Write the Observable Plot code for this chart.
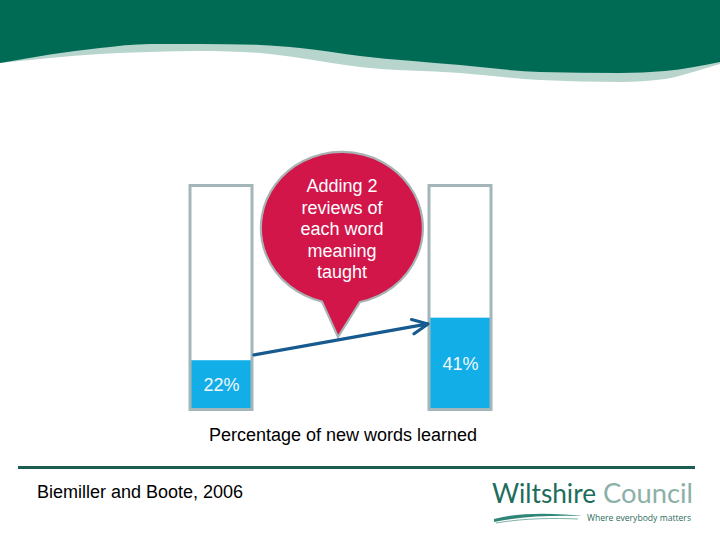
<!DOCTYPE html>
<html>
<head>
<meta charset="utf-8">
<script src="https://cdn.jsdelivr.net/npm/d3@7"></script>
<script src="https://cdn.jsdelivr.net/npm/@observablehq/plot@0.6"></script>
<style>
  html, body { margin: 0; padding: 0; background: #ffffff; }
  #slide { position: relative; width: 720px; height: 540px; overflow: hidden; background: #ffffff; font-family: "Liberation Sans", Arial, sans-serif; }
  #deco, #chart { position: absolute; left: 0; top: 0; }
  #chart svg { background: transparent; }
</style>
</head>
<body>
<div id="slide">
  <svg id="deco" width="720" height="540" xmlns="http://www.w3.org/2000/svg"></svg>
  <div id="chart"></div>
</div>
<script>
// ---- data ----
const categories = ["Word meanings taught", "Taught + 2 reviews"];
const values = [22, 41];
const valueLabels = ["22%", "41%"];
const scaleMax = 100;
const bubbleLines = ["Adding 2", "reviews of", "each word", "meaning", "taught"];
const captionText = "Percentage of new words learned";
const sourceText = "Biemiller and Boote, 2006";
const logoMain = "Wiltshire";
const logoSecond = "Council";
const logoTagline = "Where everybody matters";

const data = categories.map((c, i) => ({cat: c, value: values[i], label: valueLabels[i]}));
const arrowData = [{x1: categories[0], y1: values[0], x2: categories[1], y2: values[1]}];

// ---- decoration (slide template) ----
const deco = d3.select("#deco");
const darkEdge = [[0,63],[100,48],[150,44],[200,44],[260,45],[300,48],[360,56],[460,65],[540,72],[620,73],[665,71],[720,62]];
const lightEdge = [[0,63],[50,58],[100,54],[150,52],[200,51],[260,53],[300,58],[360,67],[460,73],[540,80],[620,82],[665,79],[693,72],[720,64]];
const edgeLine = d3.line().curve(d3.curveMonotoneX);
deco.append("path").attr("d", "M0,0 L720,0 L" + edgeLine(lightEdge.slice().reverse()).slice(1) + " Z").attr("fill", "#b7d5cd");
deco.append("path").attr("d", "M0,0 L720,0 L" + edgeLine(darkEdge.slice().reverse()).slice(1) + " Z").attr("fill", "#006b55");

// speech bubble
const cx = 342, cy = 228, rx = 81, ry = 76;
deco.append("path")
  .attr("d", `M360,302 A${rx},${ry} 0 1 0 322,301.6 L338,337 Z`)
  .attr("fill", "#d2164a").attr("stroke", "#a9b3b3").attr("stroke-width", 2.2);
const bt = deco.append("text").attr("text-anchor", "middle").attr("fill", "#ffffff")
  .attr("font-family", "Liberation Sans, Arial, sans-serif").attr("font-size", 18);
bubbleLines.forEach((t, i) => bt.append("tspan").attr("x", cx).attr("y", 192 + i * 21.5).text(t));

// caption
deco.append("text").attr("x", 343).attr("y", 441).attr("text-anchor", "middle")
  .attr("font-family", "Liberation Sans, Arial, sans-serif").attr("font-size", 18).attr("fill", "#000")
  .text(captionText);

// rule and source
deco.append("line").attr("x1", 18).attr("x2", 695).attr("y1", 467.5).attr("y2", 467.5)
  .attr("stroke", "#1d5c50").attr("stroke-width", 3);
deco.append("text").attr("x", 37).attr("y", 498)
  .attr("font-family", "Liberation Sans, Arial, sans-serif").attr("font-size", 18).attr("fill", "#000")
  .text(sourceText);

// logo
deco.append("text").attr("x", 492).attr("y", 503).attr("font-family", "Lato, 'Open Sans', sans-serif")
  .attr("font-size", 27).attr("fill", "#1d6c5c").attr("textLength", 104).attr("lengthAdjust", "spacingAndGlyphs")
  .text(logoMain);
deco.append("text").attr("x", 603).attr("y", 503).attr("font-family", "Lato, 'Open Sans', sans-serif")
  .attr("font-size", 27).attr("fill", "#8bb0a8").attr("textLength", 90).attr("lengthAdjust", "spacingAndGlyphs")
  .text(logoSecond);
deco.append("text").attr("x", 587).attr("y", 521).attr("font-family", "'Open Sans', Lato, sans-serif")
  .attr("font-size", 9.5).attr("fill", "#2d6d60").attr("textLength", 104).attr("lengthAdjust", "spacingAndGlyphs")
  .text(logoTagline);
deco.append("path").attr("d", "M494,519 C520,512 555,513 583,516 C555,515 522,516 494,522 Z").attr("fill", "#2f8677");
deco.append("path").attr("d", "M496,523 C525,518 555,518 578,519").attr("fill", "none").attr("stroke", "#7fb3a8").attr("stroke-width", 1);

// ---- chart ----
const chart = Plot.plot({
  width: 720,
  height: 540,
  style: {background: "transparent", overflow: "visible"},
  x: {domain: categories, range: [189.5, 490.5], paddingInner: 0.7406, paddingOuter: 0, axis: null},
  y: {domain: [0, scaleMax], range: [409.5, 185.5], axis: null},
  marks: [
    Plot.barY(data, {x: "cat", y1: 0, y2: scaleMax, fill: "#ffffff"}),
    Plot.barY(data, {x: "cat", y1: 0, y2: "value", fill: "#12aee7"}),
    Plot.barY(data, {x: "cat", y1: 0, y2: scaleMax, fill: "none", stroke: "#a3b7ba", strokeWidth: 3}),
    Plot.text(data, {x: "cat", y: d => d.value / 2, text: "label", fill: "#f2f6fb", fontSize: 18,
      fontFamily: "Liberation Sans, Arial, sans-serif"}),
    Plot.arrow(arrowData, {x1: "x1", y1: "y1", x2: "x2", y2: "y2", stroke: "#175a90", strokeWidth: 3.2,
      headLength: 8, headAngle: 50, insetStart: 33, insetEnd: 33, bend: 0})
  ]
});
document.getElementById("chart").appendChild(chart);
</script>
</body>
</html>
